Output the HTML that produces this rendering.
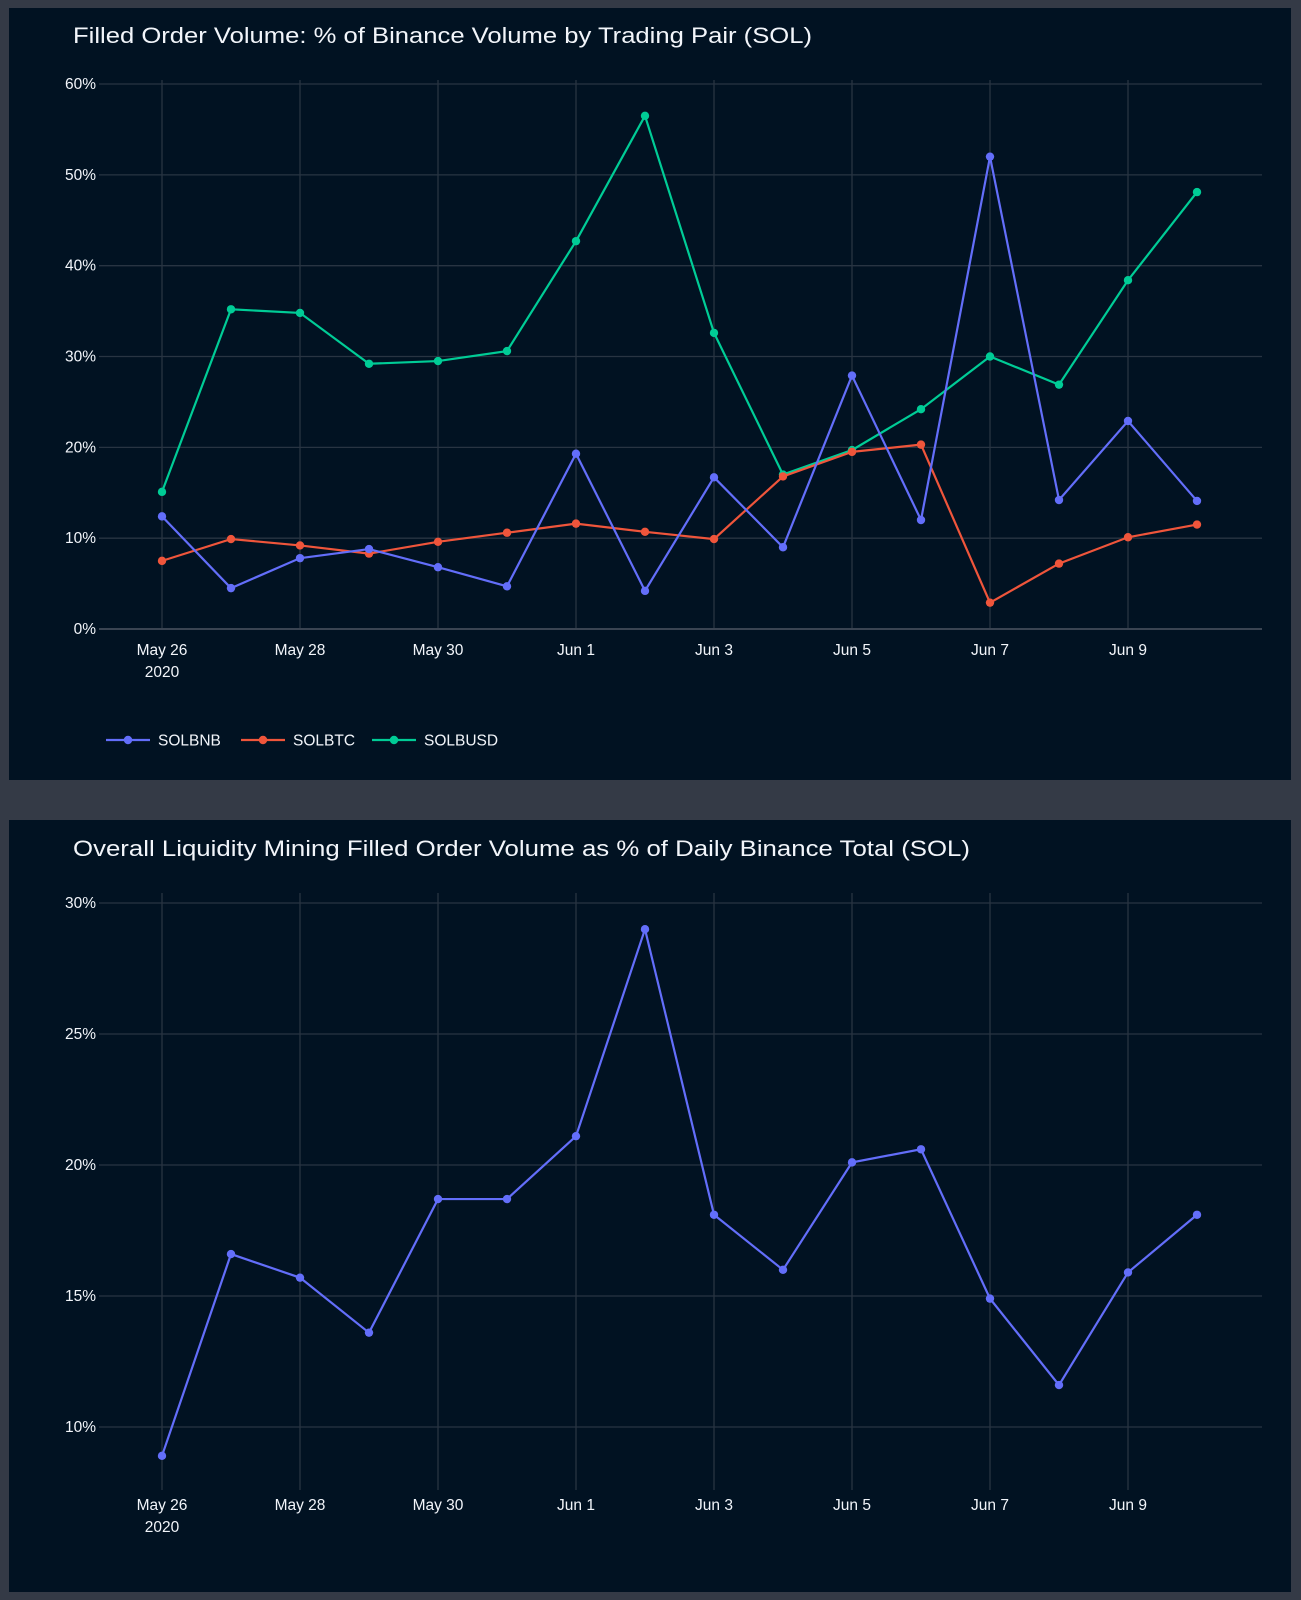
<!DOCTYPE html>
<html><head><meta charset="utf-8"><style>
html,body{margin:0;padding:0;background:#343a46;}
svg{display:block;font-family:"Liberation Sans",sans-serif;}
</style></head><body>
<svg id="c" width="1301" height="1600" xmlns="http://www.w3.org/2000/svg">
<rect x="0" y="0" width="1301" height="1600" fill="#343a46"/>
<rect x="9" y="8" width="1282" height="772" fill="#011222"/>
<rect x="9" y="820" width="1282" height="772" fill="#011222"/>
<text x="73" y="43" font-size="22" fill="#f2f5fa" textLength="739" lengthAdjust="spacingAndGlyphs">Filled Order Volume: % of Binance Volume by Trading Pair (SOL)</text>
<text x="73" y="856" font-size="22" fill="#f2f5fa" textLength="897" lengthAdjust="spacingAndGlyphs">Overall Liquidity Mining Filled Order Volume as % of Daily Binance Total (SOL)</text>
<g id="g1"></g><g id="g2"></g>
</svg>
<script>
const dates = ["May 26","May 27","May 28","May 29","May 30","May 31","Jun 1","Jun 2","Jun 3","Jun 4","Jun 5","Jun 6","Jun 7","Jun 8","Jun 9","Jun 10"];
const tickLabels = ["May 26","May 28","May 30","Jun 1","Jun 3","Jun 5","Jun 7","Jun 9"];
const tickIdx = [0,2,4,6,8,10,12,14];
const solbnb = [12.4,4.5,7.8,8.8,6.8,4.7,19.3,4.2,16.7,9.0,27.9,12.0,52.0,14.2,22.9,14.1];
const solbtc = [7.5,9.9,9.2,8.3,9.6,10.6,11.6,10.7,9.9,16.8,19.5,20.3,2.9,7.2,10.1,11.5];
const solbusd = [15.1,35.2,34.8,29.2,29.5,30.6,42.7,56.5,32.6,17.0,19.7,24.2,30.0,26.9,38.4,48.1];
const overall = [8.9,16.6,15.7,13.6,18.7,18.7,21.1,29.0,18.1,16.0,20.1,20.6,14.9,11.6,15.9,18.1];
const yTicks1 = [0,10,20,30,40,50,60];
const yTicks2 = [10,15,20,25,30];
const NS="http://www.w3.org/2000/svg";
function mk(p,t,a){const e=document.createElementNS(NS,t);for(const k in a)e.setAttribute(k,a[k]);p.appendChild(e);return e;}
const xs = i => 162 + i*69;
function chart(g, y, yTicks, series, top, bottom, xlabY){
  tickIdx.forEach((idx,k)=>{
    const l=mk(g,'line',{x1:xs(idx),x2:xs(idx),y1:top,y2:bottom,stroke:'#283442','stroke-width':1.3});
    
    
    const t=mk(g,'text',{x:xs(idx),y:xlabY,'text-anchor':'middle','font-size':15.5,fill:'#f2f5fa'});
    t.textContent=tickLabels[k];
    
    
  });
  const t2=mk(g,'text',{x:xs(0),y:xlabY+22,'text-anchor':'middle','font-size':15.5,fill:'#f2f5fa'});
  t2.textContent='2020';
  
  
  yTicks.forEach(v=>{
    const l=mk(g,'line',{x1:99,x2:1262,y1:y(v),y2:y(v),stroke:v===0?'#3a4452':'#283442','stroke-width':v===0?2:1.3});
    
    
    const t=mk(g,'text',{x:96,y:y(v)+5,'text-anchor':'end','font-size':15.5,fill:'#f2f5fa'});
    t.textContent=v+'%';
    
    
  });
  series.forEach(s=>{
    const p=mk(g,'polyline',{points:s.v.map((v,i)=>xs(i)+','+y(v)).join(' '),fill:'none',stroke:s.c,'stroke-width':2.2});
    
    
    s.v.forEach((v,i)=>{
      const c=mk(g,'circle',{cx:xs(i),cy:y(v),r:4.2,fill:s.c});
      
      
    });
  });
}
const y1 = v => 629 - v*9.083;
const y2 = v => 1427 - (v-10)*26.2;
chart(document.getElementById('g1'), y1, yTicks1, [
  {n:'solbusd',v:solbusd,c:'#00cc96'},
  {n:'solbtc',v:solbtc,c:'#ef553b'},
  {n:'solbnb',v:solbnb,c:'#636efa'}], 80, 629, 655);
chart(document.getElementById('g2'), y2, yTicks2, [{n:'overall',v:overall,c:'#636efa'}], 893, 1490, 1510);
const lg=document.getElementById('g1');
const leg=[['SOLBNB','#636efa',106],['SOLBTC','#ef553b',241],['SOLBUSD','#00cc96',372]];
leg.forEach(([n,c,x])=>{
  const g=mk(lg,'g',{});
  
  
  mk(g,'line',{x1:x,x2:x+44,y1:740,y2:740,stroke:c,'stroke-width':2.2});
  mk(g,'circle',{cx:x+22,cy:740,r:4.2,fill:c});
  const t=mk(g,'text',{x:x+52,y:745.5,'font-size':15.5,fill:'#f2f5fa'});
  t.textContent=n;
});
</script>
</body></html>
